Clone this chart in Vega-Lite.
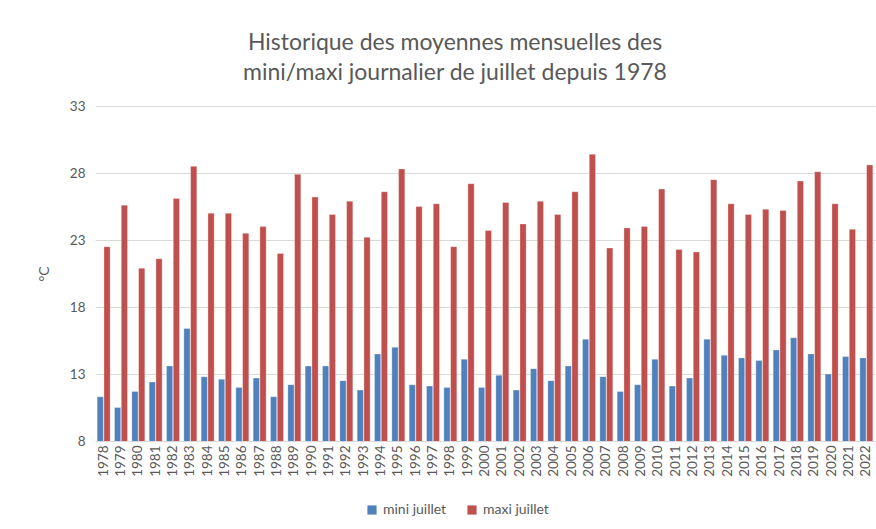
{
  "$schema": "https://vega.github.io/schema/vega-lite/v6.json",
  "autosize": "none",
  "width": 780,
  "height": 335,
  "padding": {"left": 95, "top": 106, "right": 1, "bottom": 88},
  "background": "white",
  "title": {
    "text": ["Historique des moyennes mensuelles des", "mini/maxi journalier de juillet depuis 1978"],
    "font": "Lato",
    "fontSize": 23,
    "fontWeight": "normal",
    "color": "#595959",
    "anchor": "middle",
    "frame": "group",
    "dx": -30,
    "lineHeight": 30,
    "offset": 14
  },
  "datasets": {
    "t": [
      {"annee": "1978", "serie": "mini juillet", "v": 11.3}, {"annee": "1978", "serie": "maxi juillet", "v": 22.5},
      {"annee": "1979", "serie": "mini juillet", "v": 10.5}, {"annee": "1979", "serie": "maxi juillet", "v": 25.6},
      {"annee": "1980", "serie": "mini juillet", "v": 11.7}, {"annee": "1980", "serie": "maxi juillet", "v": 20.9},
      {"annee": "1981", "serie": "mini juillet", "v": 12.4}, {"annee": "1981", "serie": "maxi juillet", "v": 21.6},
      {"annee": "1982", "serie": "mini juillet", "v": 13.6}, {"annee": "1982", "serie": "maxi juillet", "v": 26.1},
      {"annee": "1983", "serie": "mini juillet", "v": 16.4}, {"annee": "1983", "serie": "maxi juillet", "v": 28.5},
      {"annee": "1984", "serie": "mini juillet", "v": 12.8}, {"annee": "1984", "serie": "maxi juillet", "v": 25.0},
      {"annee": "1985", "serie": "mini juillet", "v": 12.6}, {"annee": "1985", "serie": "maxi juillet", "v": 25.0},
      {"annee": "1986", "serie": "mini juillet", "v": 12.0}, {"annee": "1986", "serie": "maxi juillet", "v": 23.5},
      {"annee": "1987", "serie": "mini juillet", "v": 12.7}, {"annee": "1987", "serie": "maxi juillet", "v": 24.0},
      {"annee": "1988", "serie": "mini juillet", "v": 11.3}, {"annee": "1988", "serie": "maxi juillet", "v": 22.0},
      {"annee": "1989", "serie": "mini juillet", "v": 12.2}, {"annee": "1989", "serie": "maxi juillet", "v": 27.9},
      {"annee": "1990", "serie": "mini juillet", "v": 13.6}, {"annee": "1990", "serie": "maxi juillet", "v": 26.2},
      {"annee": "1991", "serie": "mini juillet", "v": 13.6}, {"annee": "1991", "serie": "maxi juillet", "v": 24.9},
      {"annee": "1992", "serie": "mini juillet", "v": 12.5}, {"annee": "1992", "serie": "maxi juillet", "v": 25.9},
      {"annee": "1993", "serie": "mini juillet", "v": 11.8}, {"annee": "1993", "serie": "maxi juillet", "v": 23.2},
      {"annee": "1994", "serie": "mini juillet", "v": 14.5}, {"annee": "1994", "serie": "maxi juillet", "v": 26.6},
      {"annee": "1995", "serie": "mini juillet", "v": 15.0}, {"annee": "1995", "serie": "maxi juillet", "v": 28.3},
      {"annee": "1996", "serie": "mini juillet", "v": 12.2}, {"annee": "1996", "serie": "maxi juillet", "v": 25.5},
      {"annee": "1997", "serie": "mini juillet", "v": 12.1}, {"annee": "1997", "serie": "maxi juillet", "v": 25.7},
      {"annee": "1998", "serie": "mini juillet", "v": 12.0}, {"annee": "1998", "serie": "maxi juillet", "v": 22.5},
      {"annee": "1999", "serie": "mini juillet", "v": 14.1}, {"annee": "1999", "serie": "maxi juillet", "v": 27.2},
      {"annee": "2000", "serie": "mini juillet", "v": 12.0}, {"annee": "2000", "serie": "maxi juillet", "v": 23.7},
      {"annee": "2001", "serie": "mini juillet", "v": 12.9}, {"annee": "2001", "serie": "maxi juillet", "v": 25.8},
      {"annee": "2002", "serie": "mini juillet", "v": 11.8}, {"annee": "2002", "serie": "maxi juillet", "v": 24.2},
      {"annee": "2003", "serie": "mini juillet", "v": 13.4}, {"annee": "2003", "serie": "maxi juillet", "v": 25.9},
      {"annee": "2004", "serie": "mini juillet", "v": 12.5}, {"annee": "2004", "serie": "maxi juillet", "v": 24.9},
      {"annee": "2005", "serie": "mini juillet", "v": 13.6}, {"annee": "2005", "serie": "maxi juillet", "v": 26.6},
      {"annee": "2006", "serie": "mini juillet", "v": 15.6}, {"annee": "2006", "serie": "maxi juillet", "v": 29.4},
      {"annee": "2007", "serie": "mini juillet", "v": 12.8}, {"annee": "2007", "serie": "maxi juillet", "v": 22.4},
      {"annee": "2008", "serie": "mini juillet", "v": 11.7}, {"annee": "2008", "serie": "maxi juillet", "v": 23.9},
      {"annee": "2009", "serie": "mini juillet", "v": 12.2}, {"annee": "2009", "serie": "maxi juillet", "v": 24.0},
      {"annee": "2010", "serie": "mini juillet", "v": 14.1}, {"annee": "2010", "serie": "maxi juillet", "v": 26.8},
      {"annee": "2011", "serie": "mini juillet", "v": 12.1}, {"annee": "2011", "serie": "maxi juillet", "v": 22.3},
      {"annee": "2012", "serie": "mini juillet", "v": 12.7}, {"annee": "2012", "serie": "maxi juillet", "v": 22.1},
      {"annee": "2013", "serie": "mini juillet", "v": 15.6}, {"annee": "2013", "serie": "maxi juillet", "v": 27.5},
      {"annee": "2014", "serie": "mini juillet", "v": 14.4}, {"annee": "2014", "serie": "maxi juillet", "v": 25.7},
      {"annee": "2015", "serie": "mini juillet", "v": 14.2}, {"annee": "2015", "serie": "maxi juillet", "v": 24.9},
      {"annee": "2016", "serie": "mini juillet", "v": 14.0}, {"annee": "2016", "serie": "maxi juillet", "v": 25.3},
      {"annee": "2017", "serie": "mini juillet", "v": 14.8}, {"annee": "2017", "serie": "maxi juillet", "v": 25.2},
      {"annee": "2018", "serie": "mini juillet", "v": 15.7}, {"annee": "2018", "serie": "maxi juillet", "v": 27.4},
      {"annee": "2019", "serie": "mini juillet", "v": 14.5}, {"annee": "2019", "serie": "maxi juillet", "v": 28.1},
      {"annee": "2020", "serie": "mini juillet", "v": 13.0}, {"annee": "2020", "serie": "maxi juillet", "v": 25.7},
      {"annee": "2021", "serie": "mini juillet", "v": 14.3}, {"annee": "2021", "serie": "maxi juillet", "v": 23.8},
      {"annee": "2022", "serie": "mini juillet", "v": 14.2}, {"annee": "2022", "serie": "maxi juillet", "v": 28.6}
    ]
  },
  "data": {"name": "t"},
  "mark": {"type": "bar", "clip": true},
  "encoding": {
    "x": {
      "field": "annee",
      "type": "ordinal",
      "scale": {"paddingInner": 0.25, "paddingOuter": 0.125},
      "axis": {
        "title": null,
        "labelAngle": -90,
        "labelAlign": "right",
        "labelBaseline": "middle",
        "labelFont": "Lato",
        "labelFontSize": 13.5,
        "labelColor": "#595959",
        "labelPadding": 4,
        "ticks": false,
        "domainColor": "#D9D9D9",
        "domainWidth": 1
      }
    },
    "xOffset": {
      "field": "serie",
      "type": "nominal",
      "sort": ["mini juillet", "maxi juillet"],
      "scale": {"paddingInner": 0.08}
    },
    "y": {
      "field": "v",
      "type": "quantitative",
      "scale": {"domain": [8, 33], "nice": false, "zero": false},
      "axis": {
        "values": [8, 13, 18, 23, 28, 33],
        "title": "°C",
        "titleFont": "Lato",
        "titleFontSize": 14,
        "titleFontWeight": "normal",
        "titleColor": "#595959",
        "titlePadding": 18,
        "labelFont": "Lato",
        "labelFontSize": 13.5,
        "labelColor": "#595959",
        "labelPadding": 10,
        "ticks": false,
        "domain": false,
        "gridColor": "#D9D9D9",
        "gridWidth": 1
      }
    },
    "color": {
      "field": "serie",
      "type": "nominal",
      "sort": ["mini juillet", "maxi juillet"],
      "scale": {"domain": ["mini juillet", "maxi juillet"], "range": ["#4F81BD", "#C0504D"]},
      "legend": {
        "title": null,
        "orient": "none",
        "direction": "horizontal",
        "legendX": 270,
        "legendY": 397,
        "symbolType": "square",
        "symbolSize": 90,
        "symbolStrokeWidth": 0,
        "labelFont": "Lato",
        "labelFontSize": 14,
        "labelColor": "#595959",
        "labelOffset": 4,
        "columnPadding": 18
      }
    }
  },
  "config": {
    "view": {"stroke": null},
    "bar": {"stroke": "white", "strokeOpacity": 0.6, "strokeWidth": 0.5}
  }
}
